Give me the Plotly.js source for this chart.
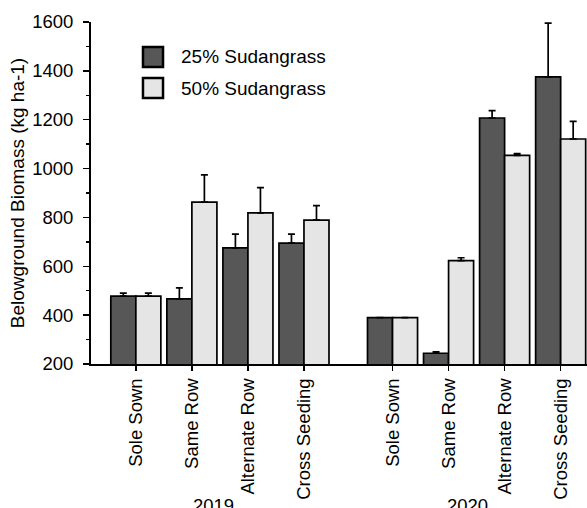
<!DOCTYPE html>
<html>
<head>
<meta charset="utf-8">
<script src="https://cdn.plot.ly/plotly-3.0.1.min.js"></script>
<style>html,body{margin:0;padding:0;background:#fff;}#chart{width:587px;height:508px;}</style>
</head>
<body>
<div id="chart"></div>
<script>
// ---- data ----
const categories = ['Sole Sown', 'Same Row', 'Alternate Row', 'Cross Seeding'];
const years = ['2019', '2020'];
const seriesNames = ['25% Sudangrass', '50% Sudangrass'];
// values ordered: 2019 (4 categories), then 2020 (4 categories)
const sud25 = [478, 467, 675, 695, 390, 244, 1207, 1375];
const sud25Err = [12, 45, 57, 37, 0, 6, 30, 220];
const sud50 = [478, 863, 819, 789, 390, 623, 1054, 1121];
const sud50Err = [12, 111, 103, 59, 0, 12, 7, 72];
const yTickVals = [200, 400, 600, 800, 1000, 1200, 1400, 1600];

// ---- layout helpers ----
const groupOffset = 4.58;
const xPos = [];
const tickText = [];
years.forEach((yr, g) => categories.forEach((c, i) => { xPos.push(g * groupOffset + i); tickText.push(c); }));
const yearCenters = [1.38, groupOffset + 1.34];

const darkFill = '#575757';
const lightFill = '#e5e5e5';
const FONT = 'Arial, "Liberation Sans", sans-serif';
const TICK_SIZE = 18.5;
const TEXT_SIZE = 19;

function barTrace(name, vals, errs, fill) {
  return {
    type: 'bar', name: name, x: xPos, y: vals,
    marker: { color: fill, line: { color: '#000', width: 1.7 } },
    error_y: { type: 'data', symmetric: false, array: errs, arrayminus: errs.map(() => 0),
               color: '#000', thickness: 1.7, width: 3.5 },
    showlegend: false, cliponaxis: false
  };
}

const data = [
  barTrace(seriesNames[0], sud25, sud25Err, darkFill),
  barTrace(seriesNames[1], sud50, sud50Err, lightFill)
];

const shapes = [
  { type: 'rect', xref: 'paper', yref: 'paper', x0: 0.1048, x1: 0.1452, y0: 0.8684, y1: 0.9269,
    fillcolor: darkFill, line: { color: '#000', width: 2.5 } },
  { type: 'rect', xref: 'paper', yref: 'paper', x0: 0.1048, x1: 0.1452, y0: 0.7778, y1: 0.8363,
    fillcolor: lightFill, line: { color: '#000', width: 2.5 } }
];

const annotations = [
  { xref: 'paper', yref: 'paper', x: 0.177, y: 0.8977, xanchor: 'left', yanchor: 'middle',
    text: seriesNames[0], showarrow: false, font: { family: FONT, size: TEXT_SIZE, color: '#000' } },
  { xref: 'paper', yref: 'paper', x: 0.177, y: 0.807, xanchor: 'left', yanchor: 'middle',
    text: seriesNames[1], showarrow: false, font: { family: FONT, size: TEXT_SIZE, color: '#000' } }
];
years.forEach((yr, g) => annotations.push({
  xref: 'x', yref: 'paper', x: yearCenters[g], y: -0.378, xanchor: 'center', yanchor: 'top',
  text: yr, showarrow: false, font: { family: FONT, size: TICK_SIZE, color: '#000' }
}));

const layout = {
  width: 587, height: 508,
  margin: { l: 91, r: 0, t: 22, b: 144, pad: 0 },
  paper_bgcolor: '#fff', plot_bgcolor: '#fff',
  font: { family: FONT, size: TICK_SIZE, color: '#000' },
  barmode: 'group', bargap: 0.107, bargroupgap: 0,
  showlegend: false,
  xaxis: {
    range: [-0.8, 8.05], tickmode: 'array', tickvals: xPos, ticktext: tickText,
    tickangle: -90, ticks: 'outside', ticklen: 5, tickwidth: 1.5, tickcolor: '#000',
    showline: true, linecolor: '#000', linewidth: 2, showgrid: false, zeroline: false,
    tickfont: { family: FONT, size: TICK_SIZE, color: '#000' }
  },
  yaxis: {
    range: [200, 1600], tickmode: 'array', tickvals: yTickVals,
    ticks: 'outside', ticklen: 6, tickwidth: 1.5, tickcolor: '#000', ticklabelstandoff: 6,
    minor: { dtick: 100, tick0: 200, ticks: 'outside', ticklen: 3, tickwidth: 1.5, tickcolor: '#000', showgrid: false },
    showline: true, linecolor: '#000', linewidth: 2, showgrid: false, zeroline: false,
    tickfont: { family: FONT, size: TICK_SIZE, color: '#000' },
    title: { text: 'Belowground Biomass (kg ha-1)', font: { family: FONT, size: TEXT_SIZE, color: '#000' }, standoff: 2 }
  },
  shapes: shapes,
  annotations: annotations
};

Plotly.newPlot('chart', data, layout, { displayModeBar: false, staticPlot: true });
</script>
</body>
</html>
